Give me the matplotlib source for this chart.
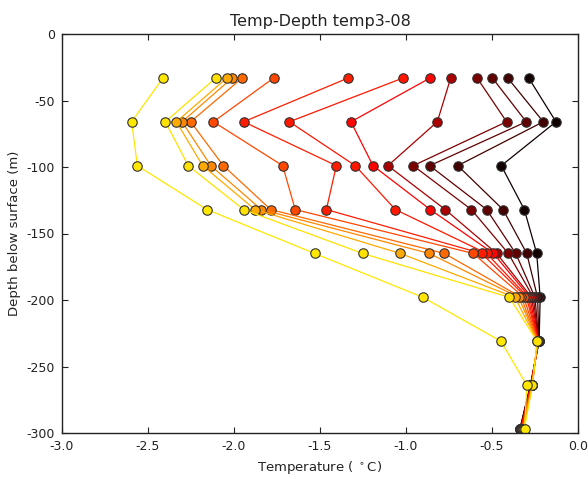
import matplotlib
matplotlib.use("Agg")
import matplotlib.pyplot as plt
import numpy as np

depths = [-33, -66, -99, -132, -165, -198, -231, -264, -297]

# profiles, from yellowest (L1) to blackest (L14)
p01 = [-2.413, -2.595, -2.562, -2.157, -1.531, -0.901, -0.448, -0.298, -0.310]
p02 = [-2.106, -2.399, -2.266, -1.944, -1.252, -0.399, -0.238, -0.265, -0.312]
p03 = [-2.041, -2.335, -2.182, -1.878, -1.033, -0.367, -0.236, -0.265, -0.318]
p04 = [-2.010, -2.302, -2.135, -1.841, -0.865, -0.345, -0.235, -0.266, -0.320]
p05 = [-1.952, -2.252, -2.062, -1.787, -0.777, -0.330, -0.234, -0.267, -0.322]
p06 = [-1.769, -2.120, -1.717, -1.644, -0.609, -0.315, -0.233, -0.268, -0.325]
p07 = [-1.335, -1.944, -1.405, -1.463, -0.560, -0.300, -0.232, -0.270, -0.330]
p08 = [-1.016, -1.678, -1.295, -1.062, -0.531, -0.290, -0.232, -0.272, -0.330]
p09 = [-0.859, -1.320, -1.192, -0.859, -0.492, -0.280, -0.231, -0.272, -0.332]
p10 = [-0.740, -0.818, -1.105, -0.772, -0.473, -0.270, -0.230, -0.273, -0.333]
p11 = [-0.587, -0.415, -0.958, -0.620, -0.405, -0.260, -0.229, -0.274, -0.335]
p12 = [-0.498, -0.301, -0.862, -0.531, -0.362, -0.250, -0.228, -0.275, -0.336]
p13 = [-0.409, -0.202, -0.699, -0.436, -0.298, -0.235, -0.227, -0.276, -0.337]
p14 = [-0.287, -0.128, -0.446, -0.312, -0.240, -0.220, -0.226, -0.277, -0.338]

profiles = [p01, p02, p03, p04, p05, p06, p07, p08, p09, p10, p11, p12, p13, p14]
color_vals = [0.71, 0.70, 0.62, 0.57, 0.52, 0.47, 0.41, 0.40, 0.37, 0.24, 0.17, 0.13, 0.085, 0.01]

xticks = [-3.0, -2.5, -2.0, -1.5, -1.0, -0.5, 0.0]
yticks = [0, -50, -100, -150, -200, -250, -300]

fig = plt.figure(figsize=(5.88, 4.79), dpi=100)
ax = fig.add_axes([62/588, 1-433/479, (578-62)/588, (433-34)/479])

cmap = plt.get_cmap('hot')
for prof, cv in reversed(list(zip(profiles, color_vals))):
    c = cmap(cv)
    ax.plot(prof, depths, '-', color=c, lw=0.9, marker='o', ms=6.8,
            mfc=c, mec='#303030', mew=0.8)

ax.set_xlim(-3.0, 0.0)
ax.set_ylim(-300, 0)
ax.set_xticks(xticks)
ax.set_xticklabels(['%.1f' % t for t in xticks])
ax.set_yticks(yticks)
ax.set_yticklabels(['%d' % t for t in yticks])
ax.tick_params(direction='in', top=True, right=True, length=4, width=0.8,
               labelsize=9, colors='#222222', pad=5)
for s in ax.spines.values():
    s.set_linewidth(1.0)
    s.set_color('#222222')

ax.set_title('Temp-Depth temp3-08', fontsize=11.5, color='#222222', pad=6)
ax.set_xlabel(r'Temperature ( $^\circ$C)', fontsize=9.5, color='#222222')
ax.set_ylabel('Depth below surface (m)', fontsize=9.5, color='#222222')

fig.savefig('out.png', dpi=100)
